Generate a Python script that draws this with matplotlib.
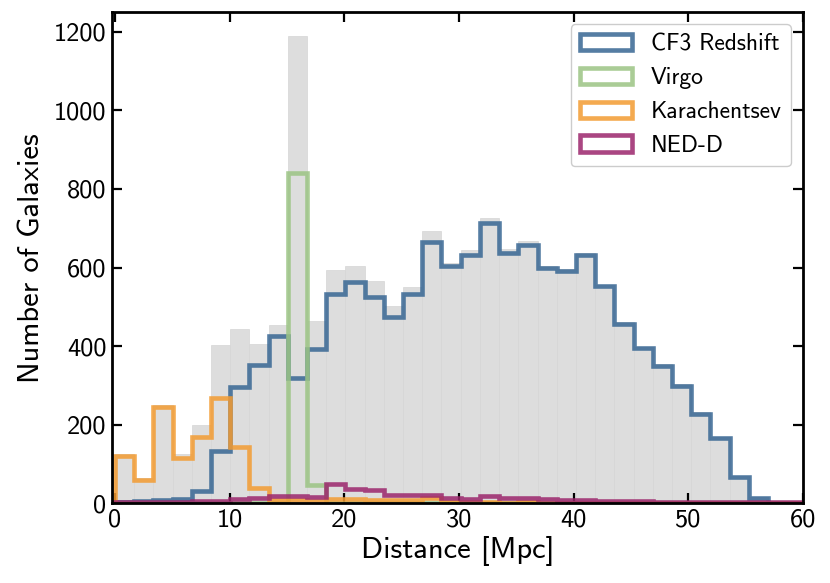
import matplotlib
matplotlib.use("Agg")
import matplotlib.pyplot as plt
import numpy as np

plt.rcParams['font.family'] = ['cmss10', 'DejaVu Sans']
plt.rcParams['axes.unicode_minus'] = False
plt.rcParams['mathtext.fontset'] = 'cm'

# bin edges (Mpc), 36 bins of ~1.675 Mpc
bin_width = 1.675
edges = np.arange(37) * bin_width
centers = 0.5 * (edges[:-1] + edges[1:])

# total counts (grey background)
total = [125, 65, 250, 125, 199, 403, 444, 406, 454, 1190, 463, 593,
         605, 565, 503, 550, 694, 612, 645, 726, 647, 667, 604, 596,
         636, 556, 460, 398, 354, 303, 231, 168, 70, 16, 3, 2]

cf3 = [4, 6, 8, 10, 30, 133, 295, 352, 426, 318, 392, 533,
       562, 525, 475, 533, 664, 604, 633, 713, 638, 658, 600, 592,
       633, 554, 456, 394, 350, 299, 228, 165, 67, 13, 0, 0]

virgo = [0, 0, 0, 0, 0, 0, 0, 0, 0, 841, 45, 0,
         0, 0, 0, 0, 0, 0, 0, 0, 0, 0, 0, 0,
         0, 0, 0, 0, 0, 0, 0, 0, 0, 0, 0, 0]

karachentsev = [121, 58, 246, 115, 168, 267, 143, 38, 8, 8, 6, 10,
                11, 8, 8, 8, 13, 2, 2, 2, 1, 2, 0, 0,
                0, 0, 0, 0, 0, 0, 0, 0, 0, 0, 0, 0]

ned_d = [3, 3, 4, 4, 5, 6, 10, 13, 17, 19, 15, 48,
         36, 33, 21, 21, 21, 13, 11, 17, 13, 14, 11, 8,
         7, 6, 5, 5, 4, 4, 3, 3, 2, 2, 2, 2]

series = [("CF3 Redshift", cf3, "#376693"),
          ("Virgo", virgo, "#9bc484"),
          ("Karachentsev", karachentsev, "#f39b31"),
          ("NED-D", ned_d, "#9b266c")]

fig = plt.figure(figsize=(8.3, 5.83), dpi=100)
ax = fig.add_axes([0.135, 0.137, 0.8325, 0.842])

ax.hist(centers, bins=edges, weights=total, color="#dddddd",
        edgecolor="#d6d6d6", linewidth=0.5, zorder=1)

for name, vals, col in series:
    ax.hist(centers, bins=edges, weights=vals, histtype="step",
            color=col, linewidth=3.3, alpha=0.85, label=name, zorder=2)

ax.set_xlim(-0.25, 60)
ax.set_ylim(0, 1250)
ax.set_xticks(np.arange(0, 61, 10))
ax.set_yticks(np.arange(0, 1201, 200))

ax.set_xlabel("Distance [Mpc]", fontsize=22, labelpad=3)
ax.set_ylabel("Number of Galaxies", fontsize=22, labelpad=6)

ax.tick_params(direction="in", top=True, right=True, length=7, width=1.6,
               labelsize=19, pad=4)
for sp in ax.spines.values():
    sp.set_linewidth(2)

leg = ax.legend(loc="upper right", fontsize=17, fancybox=True,
                edgecolor="#cccccc", framealpha=1, handlelength=2.2)

fig.savefig("out.png", dpi=100)
